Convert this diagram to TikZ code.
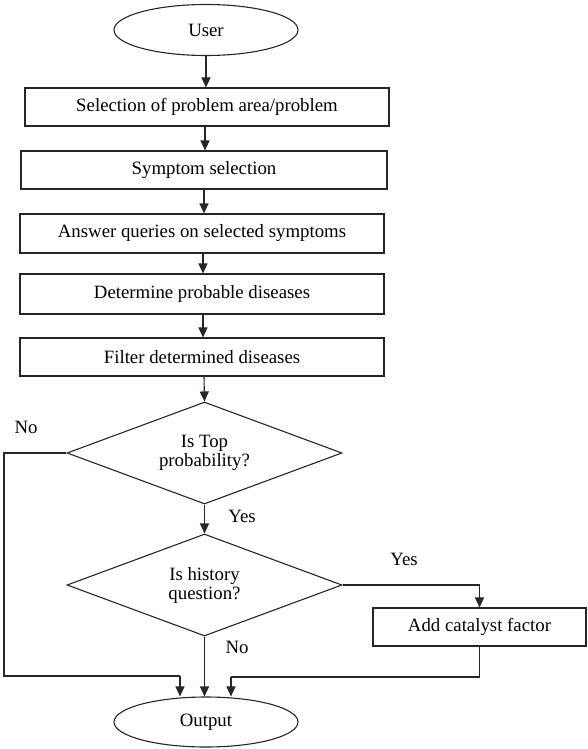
\documentclass[tikz,border=0pt]{standalone}
\usepackage{fontspec}
\setmainfont{Liberation Serif}
\usetikzlibrary{shapes.geometric,arrows.meta}
\begin{document}
\begin{tikzpicture}[x=1pt,y=-1pt,
  line width=1.1pt,
  every node/.style={font=\fontsize{18.8}{19}\selectfont, text=black},
  box/.style={draw=black!85, rectangle, minimum height=38pt, inner sep=0pt},
  term/.style={draw=black!85, ellipse, minimum width=184pt, minimum height=51pt, inner sep=0pt},
  dec/.style={draw=black!85, diamond, aspect=2.7, minimum width=275pt, minimum height=102pt, inner sep=0pt, align=center},
  arr/.style={draw=black!85, -{Triangle[length=10pt,width=9pt]}},
  ln/.style={draw=black!85}
]
\useasboundingbox (0,0) rectangle (587,749);

\node[term] (user) at (206,30) {User};
\node[box, minimum width=364pt] (b1) at (207,107) {Selection of problem area/problem};
\node[box, minimum width=366pt] (b2) at (204,170) {Symptom selection};
\node[box, minimum width=364pt, minimum height=39pt] (b3) at (202,233.5) {Answer queries on selected symptoms};
\node[box, minimum width=364pt, minimum height=40pt] (b4) at (202,294) {Determine probable diseases};
\node[box, minimum width=364pt] (b5) at (202,357) {Filter determined diseases};
\node[dec] (d1) at (204.5,453) {Is Top\\probability?};
\node[dec] (d2) at (204.5,585) {Is history\\question?};
\node[box, minimum width=213pt] (b6) at (479.5,627) {Add catalyst factor};
\node[term, minimum height=50pt] (out) at (206,722) {Output};

\coordinate (jl1) at (4,453);
\coordinate (jl2) at (180,676);
\coordinate (jr) at (231,677);

\draw[arr] (user.south) -- (user.south |- b1.north);
\draw[arr] (b1.south -| 205,0) -- (b2.north -| 205,0);
\draw[arr] (b2.south -| 204,0) -- (b3.north -| 204,0);
\draw[arr] (b3.south -| 203,0) -- (b4.north -| 203,0);
\draw[arr] (b4.south -| 203,0) -- (b5.north -| 203,0);
\draw[arr] (b5.south -| 204,0) -- (d1.north);
\draw[arr] (d1.south) -- (d2.north);
\draw[arr] (d2.south) -- (d2.south |- out.north);
\draw[arr] (d2.east) -| (b6.north);
\draw[ln] (d1.west) -- (jl1) |- (jl2);
\draw[arr] (jl2) -- (jl2 |- out.north);
\draw[ln] (b6.south) |- (jr);
\draw[arr] (jr) -- (jr |- out.north);

\node (no1) at (26,427) {No};
\node (yes1) at (242,516) {Yes};
\node (yes2) at (404,559) {Yes};
\node (no2) at (237,647) {No};
\end{tikzpicture}
\end{document}
